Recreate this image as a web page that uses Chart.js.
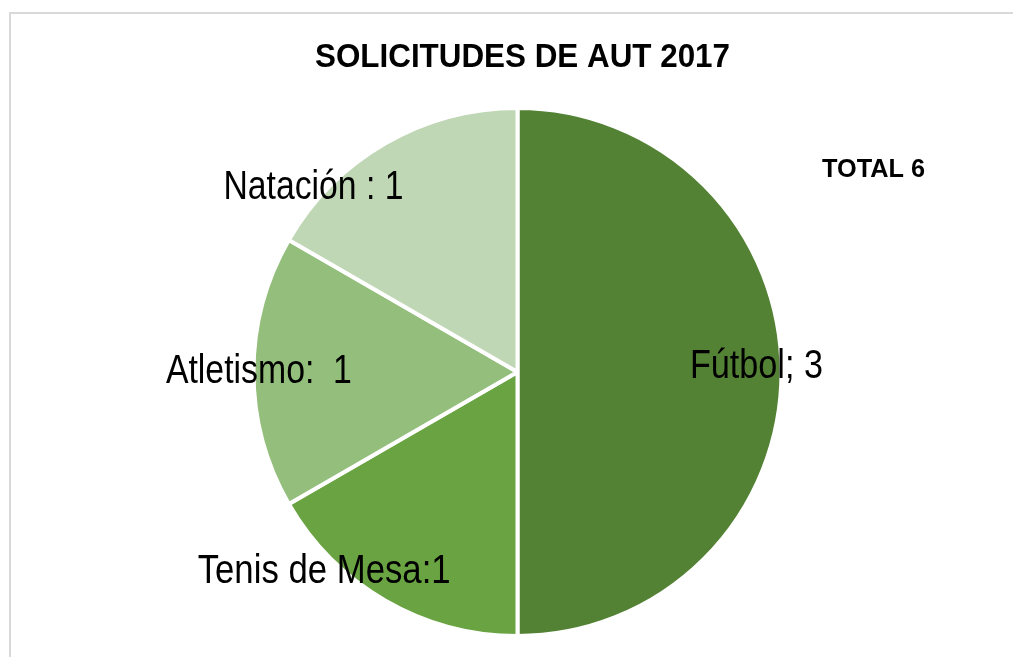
<!DOCTYPE html>
<html>
<head>
<meta charset="utf-8">
<title>Solicitudes de AUT 2017</title>
<script src="https://cdn.jsdelivr.net/npm/chart.js@4/dist/chart.umd.min.js"></script>
<style>
  html, body { margin: 0; padding: 0; background: #fff; }
  #wrap { width: 1013px; height: 657px; }
</style>
</head>
<body>
<div id="wrap"><canvas id="myChart" width="1013" height="657"></canvas></div>
<script>
// datos
var deportes = ['Fútbol', 'Tenis de Mesa', 'Atletismo', 'Natación'];
var solicitudes = [3, 1, 1, 1];
var etiquetas = ['Fútbol; 3', 'Tenis de Mesa:1', 'Atletismo:  1', 'Natación : 1'];
var titulo = 'SOLICITUDES DE AUT 2017';
var total = 'TOTAL 6';

var colores = ['#548235', '#6aa342', '#93be7b', '#c0d7b5'];

// posicion de cada etiqueta (relativa al centro, en radios) y ancho del texto
var posEtiquetas = [
    { dx: 0.912, dy: 0.022, w: 133 },
    { dx: -0.738, dy: 0.804, w: 253 },
    { dx: -0.987, dy: 0.043, w: 186 },
    { dx: -0.779, dy: -0.659, w: 180 }
];

// dibuja texto ajustado a un ancho (la fuente original es estrecha)
function textoAjustado(ctx, txt, cx, base, font, ancho) {
    ctx.save();
    ctx.font = font;
    ctx.textAlign = 'center';
    ctx.textBaseline = 'alphabetic';
    ctx.fillStyle = '#000';
    var m = ctx.measureText(txt).width;
    var sx = ancho / m;
    ctx.translate(cx, base);
    ctx.scale(sx, 1);
    ctx.fillText(txt, 0, 0);
    ctx.restore();
}

var textos = {
    id: 'textos',
    beforeDraw: function (chart) {
        var ctx = chart.ctx;
        ctx.save();
        ctx.fillStyle = '#fff';
        ctx.fillRect(0, 0, chart.width, chart.height);
        ctx.strokeStyle = '#d9d9d9';
        ctx.lineWidth = 2;
        ctx.beginPath();
        ctx.moveTo(10, 657);
        ctx.lineTo(10, 13);
        ctx.lineTo(1013, 13);
        ctx.stroke();
        ctx.restore();
    },
    afterDraw: function (chart) {
        var ctx = chart.ctx;
        var arc = chart.getDatasetMeta(0).data[0];
        var r = arc.outerRadius - 2;
        etiquetas.forEach(function (t, i) {
            var p = posEtiquetas[i];
            textoAjustado(ctx, t, arc.x + p.dx * r, arc.y + p.dy * r,
                '40px "Liberation Sans", Arial, sans-serif', p.w);
        });
        textoAjustado(ctx, titulo, 522.5, 66.7, 'bold 33px "Liberation Sans", Arial, sans-serif', 415);
        textoAjustado(ctx, total, 873.5, 177, 'bold 26px "Liberation Sans", Arial, sans-serif', 103);
    }
};

var ctx = document.getElementById('myChart').getContext('2d');

var myChart = new Chart(ctx, {
    type: 'pie',
    data: {
        labels: deportes,
        datasets: [{
            data: solicitudes,
            backgroundColor: colores,
            borderColor: '#ffffff',
            borderWidth: 4
        }]
    },
    options: {
        responsive: false,
        animation: false,
        devicePixelRatio: 1,
        radius: 264,
        layout: { padding: { left: 22, right: 0, top: 100, bottom: 13 } },
        plugins: {
            legend: { display: false },
            tooltip: { enabled: false }
        }
    },
    plugins: [textos]
});
</script>
</body>
</html>
